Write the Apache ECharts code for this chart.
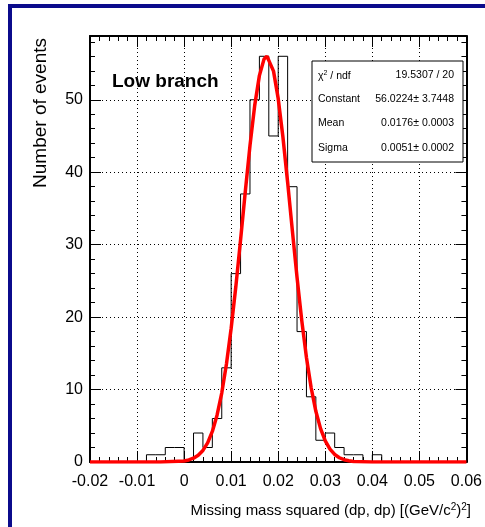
<!DOCTYPE html>
<html>
<head>
<meta charset="utf-8">
<script src="https://cdn.jsdelivr.net/npm/echarts@6/dist/echarts.min.js"></script>
<style>
html,body{margin:0;padding:0;background:#fff;overflow:hidden;}
#c{width:485px;height:527px;}
</style>
</head>
<body>
<div id="c"></div>
<script>
// ---- data ----
var binStart = -0.02;
var binWidth = 0.002;
var counts = [0,0,0,0,0,0,1,1,2,2,0,4,2,6,13,26,37,50,56,45,56,38,18,9,3,4,2,1,1,0,1,0,0,0,0,0,0,0,0,0];
var fitX = [-0.02,-0.01,-0.005,0.000,0.001,0.002,0.003,0.004,0.005,0.006,0.007,0.008,0.009,0.010,0.011,0.012,0.013,0.014,0.015,0.016,0.017,0.0176,0.018,0.019,0.020,0.021,0.022,0.023,0.024,0.025,0.026,0.027,0.028,0.029,0.030,0.031,0.032,0.033,0.034,0.035,0.036,0.040,0.050,0.060];
var fitY = [0,0,0.003,0.145,0.280,0.521,0.930,1.60,2.65,4.22,6.46,9.52,13.52,18.46,24.25,30.66,37.30,43.67,49.19,53.33,55.64,56.02,55.85,53.95,50.15,44.86,38.62,31.98,25.49,19.55,14.43,10.25,7.00,4.61,2.91,1.78,1.04,0.587,0.318,0.166,0.083,0.003,0,0];
var xTicks = {min:-0.02, max:0.06, interval:0.01};
var yTicks = {min:0, max:58.8, interval:10};
var statsLabels = ['Constant','Mean','Sigma'];
var statsValues = ['56.0224\u00b1 3.7448','0.0176\u00b1 0.0003','0.0051\u00b1 0.0002'];
var chiValue = '19.5307 / 20';

// ---- build ----
var histData = [];
for (var i = 0; i < counts.length; i++) histData.push([binStart + i * binWidth, counts[i]]);
histData.push([binStart + counts.length * binWidth, counts[counts.length - 1]]);
var fitData = fitX.map(function (x, i) { return [x, fitY[i]]; });

var FONT = "'Liberation Sans', Arial, Helvetica, sans-serif";
var SF = '10.5px ' + FONT;
var gridLine = {show: true, lineStyle: {color: '#000', width: 1, type: [1, 3]}};

function xAx(pos, labels) {
  return {
    type: 'value', position: pos, min: xTicks.min, max: xTicks.max, interval: xTicks.interval,
    axisLine: {show: true, onZero: false, lineStyle: {color: '#000', width: 2}},
    axisTick: {show: true, inside: true, length: 11, lineStyle: {color: '#000', width: 1}},
    minorTick: {show: true, splitNumber: 5, length: 5, lineStyle: {color: '#000', width: 1}},
    splitLine: labels ? gridLine : {show: false},
    axisLabel: {show: labels, color: '#000', fontSize: 16, fontFamily: FONT, margin: 12,
      showMinLabel: true, showMaxLabel: true,
      formatter: function (v) { return Math.abs(v) < 1e-9 ? '0' : v.toFixed(2); }}
  };
}
function yAx(pos, labels) {
  return {
    type: 'value', position: pos, min: yTicks.min, max: yTicks.max, interval: yTicks.interval,
    axisLine: {show: true, onZero: false, lineStyle: {color: '#000', width: 2}},
    axisTick: {show: true, inside: true, length: 11, lineStyle: {color: '#000', width: 1}},
    minorTick: {show: true, splitNumber: 5, length: 5, lineStyle: {color: '#000', width: 1}},
    splitLine: labels ? gridLine : {show: false},
    axisLabel: {show: labels, color: '#000', fontSize: 16, fontFamily: FONT, margin: 7,
      formatter: function (v) { return Math.abs(v - Math.round(v / 10) * 10) < 1e-6 ? String(Math.round(v)) : ''; }}
  };
}

var chart = echarts.init(document.getElementById('c'), null, {renderer: 'canvas'});
var statsGraphics = [
  {type: 'rect', shape: {x: 312, y: 61, width: 151, height: 101}, style: {fill: '#fff', stroke: '#000', lineWidth: 1}, z: 100},
  {type: 'text', x: 318, y: 76, z: 101, style: {text: '{a|\u03c7}{s|2}{a| / ndf}', rich: {a: {fontSize: 10.5, fontFamily: FONT, fill: '#000'}, s: {fontSize: 7, fontFamily: FONT, verticalAlign: 'top', padding: [0, 0, 6, 0]}}, verticalAlign: 'middle', fill: '#000'}},
  {type: 'text', x: 454, y: 75, z: 101, style: {text: chiValue, font: SF, fill: '#000', align: 'right', verticalAlign: 'middle'}}
];
var rowY = [99, 123, 148];
statsLabels.forEach(function (lab, i) {
  statsGraphics.push({type: 'text', x: 318, y: rowY[i], z: 101, style: {text: lab, font: SF, fill: '#000', verticalAlign: 'middle'}});
  statsGraphics.push({type: 'text', x: 454, y: rowY[i], z: 101, style: {text: statsValues[i], font: SF, fill: '#000', align: 'right', verticalAlign: 'middle'}});
});

chart.setOption({
  backgroundColor: '#fff',
  animation: false,
  grid: {left: 90, top: 36, width: 381, height: 426, containLabel: false},
  xAxis: [xAx('bottom', true), xAx('top', false)],
  yAxis: [yAx('left', true), yAx('right', false)],
  series: [
    {type: 'line', data: histData, step: 'end', symbol: 'none', xAxisIndex: 0, yAxisIndex: 0,
      lineStyle: {color: '#000', width: 1}, z: 3},
    {type: 'line', data: fitData, symbol: 'none', smooth: false, xAxisIndex: 0, yAxisIndex: 0,
      lineStyle: {color: '#ff0000', width: 3.5}, z: 4}
  ],
  graphic: [
    {type: 'line', shape: {x1: 8, y1: 6, x2: 485, y2: 6}, style: {stroke: '#0b0b8c', lineWidth: 4}, z: 200},
    {type: 'line', shape: {x1: 10, y1: 4, x2: 10, y2: 527}, style: {stroke: '#0b0b8c', lineWidth: 4}, z: 200},
    {type: 'text', x: 112, y: 82, z: 50, style: {text: 'Low branch', font: 'bold 19px ' + FONT, fill: '#000', verticalAlign: 'middle'}},
    {type: 'text', x: 41, y: 38, rotation: Math.PI / 2, z: 50, style: {text: 'Number of events', font: '19px ' + FONT, fill: '#000', align: 'right', verticalAlign: 'middle'}},
    {type: 'text', x: 471, y: 520, z: 50, style: {
      text: '{a|Missing mass squared (dp, dp) [(GeV/c}{s|2}{a|)}{s|2}{a|]}',
      align: 'right', verticalAlign: 'bottom',
      rich: {a: {fontSize: 15, fontFamily: FONT, fill: '#000', lineHeight: 18}, s: {fontSize: 10, fontFamily: FONT, fill: '#000', verticalAlign: 'top', lineHeight: 18, padding: [0, 0, 10, 0]}}}}
  ].concat(statsGraphics)
});
</script>
</body>
</html>
